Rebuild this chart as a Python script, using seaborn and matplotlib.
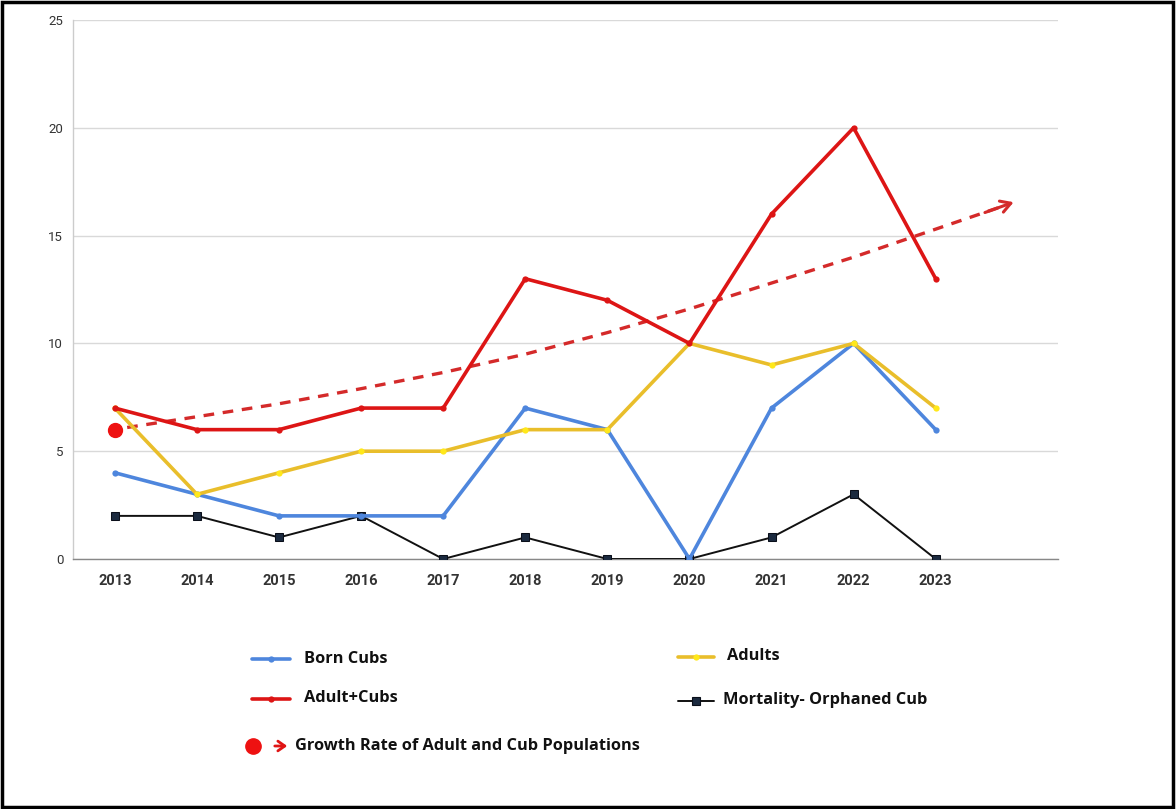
import numpy as np
import pandas as pd
import matplotlib
matplotlib.use("Agg")
import matplotlib.pyplot as plt
import seaborn as sns
from matplotlib.lines import Line2D
from matplotlib.patches import Rectangle, FancyArrowPatch

# ---- data ----
years = ["2013", "2014", "2015", "2016", "2017", "2018", "2019", "2020", "2021", "2022", "2023"]
born_cubs = [4, 3, 2, 2, 2, 7, 6, 0, 7, 10, 6]
adults = [7, 3, 4, 5, 5, 6, 6, 10, 9, 10, 7]
adult_cubs = [7, 6, 6, 7, 7, 13, 12, 10, 16, 20, 13]
mortality = [2, 2, 1, 2, 0, 1, 0, 0, 1, 3, 0]
# growth trend (dashed arrow), x in year-index units
trend_x = [0.15, 1, 2, 3, 4, 5, 6, 7, 8, 9, 10, 10.95]
trend_y = [6.1, 6.6, 7.2, 7.9, 8.65, 9.5, 10.5, 11.6, 12.8, 14.0, 15.3, 16.55]
start_point = (0, 6)
y_ticks = [0, 5, 10, 15, 20, 25]

sns.set_theme(style="white")
plt.rcParams['font.family'] = ['Roboto', 'DejaVu Sans']

W, H = 1176, 809
fig = plt.figure(figsize=(W / 100, H / 100), dpi=100)
ax = fig.add_axes([73 / W, 1 - 559 / H, (1058 - 73) / W, (559 - 20) / H])

idx = np.arange(len(years))
c_blue = "#4E86DD"
c_yel = "#E9BE2B"
c_red = "#DD1515"
c_blk = "#111111"
c_trend = "#D42A2A"

ax.set_ylim(0, 25)
ax.set_xlim(-0.51, 11.49)
ax.yaxis.grid(True, color="#d9d9d9", linewidth=1)
ax.set_axisbelow(True)
for s in ["top", "right"]:
    ax.spines[s].set_visible(False)
ax.spines["left"].set_color("#cccccc")
ax.spines["left"].set_linewidth(1)
ax.spines["bottom"].set_color("#888888")
ax.spines["bottom"].set_linewidth(1)

# trend (dashed body, then arrow head on the last segment)
sns.lineplot(x=trend_x[:-1] + [trend_x[-1] - 0.12], y=trend_y[:-1] + [trend_y[-1] - 0.17], ax=ax,
             color=c_trend, linewidth=2.4, linestyle=(0, (3.2, 2.6)), zorder=2)
ax.annotate("", xy=(trend_x[-1], trend_y[-1]), xytext=(trend_x[-1] - 0.35, trend_y[-1] - 0.48),
            arrowprops=dict(arrowstyle="->,head_length=0.6,head_width=0.35", color=c_trend, lw=2.2,
                            shrinkA=0, shrinkB=0), zorder=2)
ax.plot([start_point[0]], [start_point[1]], marker="o", markersize=10, color="#EE1111", zorder=5, linestyle="none")

sns.lineplot(x=idx, y=mortality, ax=ax, color=c_blk, linewidth=1.4, marker="s", markersize=6,
             markerfacecolor="#1B2A3F", markeredgecolor="#0A0F1A", zorder=3)
sns.lineplot(x=idx, y=born_cubs, ax=ax, color=c_blue, linewidth=2.6, marker="o", markersize=4.5,
             markeredgewidth=0, markerfacecolor=c_blue, zorder=4)
sns.lineplot(x=idx, y=adults, ax=ax, color=c_yel, linewidth=2.6, marker="o", markersize=4.5,
             markeredgewidth=0, markerfacecolor="#FFE81A", zorder=4)
sns.lineplot(x=idx, y=adult_cubs, ax=ax, color=c_red, linewidth=2.6, marker="o", markersize=4.5,
             markeredgewidth=0, markerfacecolor=c_red, zorder=4)

ax.set_xticks(idx)
ax.set_xticklabels(years, fontsize=10.5, fontweight="bold", color="#333333")
ax.set_yticks(y_ticks)
ax.set_yticklabels([str(v) for v in y_ticks], fontsize=9.5, color="#333333")
ax.tick_params(axis="x", length=0, pad=11)
ax.tick_params(axis="y", length=0, pad=7)
ax.set_xlabel("")
ax.set_ylabel("")


# ---- legend (figure coords in pixels) ----
def fx(x):
    return x / W


def fy(y):
    return 1 - y / H


lfont = dict(fontsize=11.8, fontweight="bold", color="#111111", family=["Open Sans", "DejaVu Sans"], va="center")


def leg_line(x0, x1, y, color, lw, marker, ms, mfc):
    fig.add_artist(Line2D([fx(x0), fx(x1)], [fy(y), fy(y)], color=color, linewidth=lw))
    fig.add_artist(Line2D([fx((x0 + x1) / 2)], [fy(y)], marker=marker, markersize=ms, color=mfc,
                          markeredgewidth=0 if marker == "o" else 0.8,
                          markeredgecolor="#0A0F1A" if marker == "s" else mfc,
                          linestyle="none"))


leg_line(252, 290, 659, c_blue, 2.6, "o", 4.5, c_blue)
fig.text(fx(304), fy(659), "Born Cubs", **lfont)
leg_line(678, 714, 657, c_yel, 2.6, "o", 4.5, "#FFE81A")
fig.text(fx(727), fy(656), "Adults", **lfont)
leg_line(252, 290, 699, c_red, 2.6, "o", 4.5, c_red)
fig.text(fx(304), fy(698), "Adult+Cubs", **lfont)
leg_line(678, 714, 701, c_blk, 1.4, "s", 6, "#1B2A3F")
fig.text(fx(723), fy(700), "Mortality- Orphaned Cub", **lfont)
fig.add_artist(Line2D([fx(253)], [fy(746)], marker="o", markersize=11, color="#EE1111", linestyle="none"))
fig.add_artist(FancyArrowPatch((fx(272), fy(746)), (fx(290), fy(746)), transform=fig.transFigure,
                               arrowstyle="->,head_length=5,head_width=3.5", color="#E01515", lw=2.0,
                               mutation_scale=1))
fig.text(fx(295), fy(746), "Growth Rate of Adult and Cub Populations", **lfont)

# frame
fig.add_artist(Rectangle((0.0015, 0.002), 0.996, 0.995, transform=fig.transFigure, fill=False,
                         edgecolor="black", linewidth=2.5))

fig.savefig("out.png", dpi=100)
